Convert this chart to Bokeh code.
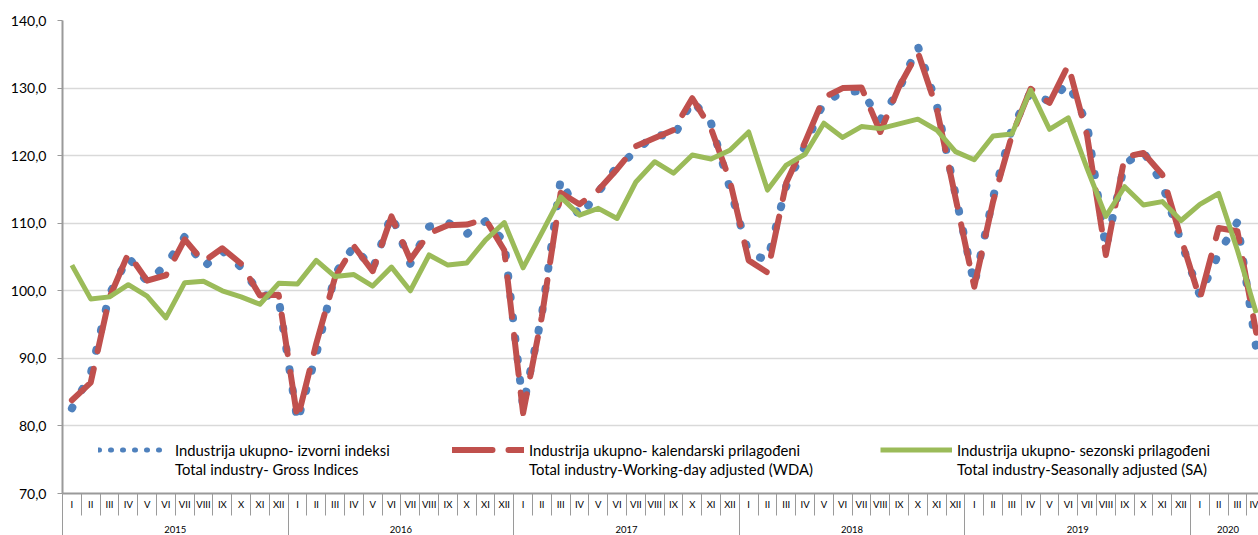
from bokeh.plotting import figure
from bokeh.models import (Range1d, FixedTicker, LinearAxis, Legend, LegendItem,
                          CustomJSTickFormatter)
from bokeh.embed import file_html
from bokeh.resources import INLINE

# ---------------- data ----------------
months = ["I", "II", "III", "IV", "V", "VI", "VII", "VIII", "IX", "X", "XI", "XII"]
years = ["2015", "2016", "2017", "2018", "2019", "2020"]
months_per_year = [12, 12, 12, 12, 12, 4]

# Industrija ukupno - izvorni indeksi (gross indices)
gross = [82.6, 87.7, 99.5, 105.0, 101.3, 103.8, 108.0, 103.5, 105.9, 103.5, 99.6, 98.8,
         80.7, 90.6, 102.5, 106.6, 103.2, 111.3, 104.0, 109.5, 110.1, 108.4, 110.3, 107.3,
         82.8, 96.5, 116.5, 110.9, 114.6, 118.4, 120.6, 123.2, 122.7, 128.2, 124.8, 115.2,
         105.6, 104.5, 115.5, 121.4, 128.0, 129.3, 129.6, 125.3, 129.8, 136.2, 127.5, 114.3,
         100.9, 113.8, 124.0, 129.4, 128.0, 130.7, 124.7, 106.3, 118.8, 120.6, 115.8, 107.3,
         99.3, 105.5, 110.2, 91.5]

# Industrija ukupno - kalendarski prilagodeni (working-day adjusted)
wda = [83.8, 86.4, 99.0, 105.5, 101.5, 102.3, 107.6, 104.3, 106.3, 104.0, 99.3, 99.4,
       81.0, 92.2, 102.0, 106.6, 102.9, 111.0, 104.6, 108.5, 109.7, 109.8, 110.6, 106.0,
       81.9, 96.2, 114.5, 112.8, 114.9, 118.0, 121.4, 122.6, 123.8, 128.5, 124.0, 116.3,
       104.5, 102.7, 116.0, 122.0, 128.6, 130.0, 130.1, 123.5, 130.2, 135.3, 127.0, 113.8,
       100.6, 113.2, 123.0, 129.9, 127.8, 133.4, 123.0, 105.3, 119.8, 120.4, 117.2, 107.8,
       98.8, 109.3, 108.8, 93.8]

# Industrija ukupno - sezonski prilagodeni (seasonally adjusted)
sa = [103.8, 98.8, 99.1, 100.9, 99.2, 96.0, 101.2, 101.4, 100.0, 99.1, 98.0, 101.1,
      101.0, 104.5, 102.1, 102.4, 100.7, 103.5, 100.0, 105.3, 103.8, 104.1, 107.5, 110.1,
      103.4, 108.6, 113.9, 111.2, 112.2, 110.7, 116.1, 119.1, 117.4, 120.1, 119.5, 120.8,
      123.5, 114.9, 118.6, 120.2, 124.8, 122.7, 124.3, 124.0, 124.7, 125.4, 123.8, 120.6,
      119.4, 122.9, 123.2, 129.7, 123.9, 125.6, 118.1, 111.0, 115.4, 112.7, 113.2, 110.4,
      112.8, 114.4, 106.0, 96.7]

legend_gross = ["Industrija ukupno- izvorni indeksi", "Total industry- Gross Indices"]
legend_wda = ["Industrija ukupno- kalendarski prilagođeni", "Total industry-Working-day adjusted (WDA)"]
legend_sa = ["Industrija ukupno- sezonski prilagođeni", "Total industry-Seasonally adjusted (SA)"]

y_ticks = [70, 80, 90, 100, 110, 120, 130, 140]

# ---------------- styling ----------------
FONT = "Lato"
BLUE = "#4F81BD"
RED = "#C0504D"
GREEN = "#9BBB59"
AXIS = "#9A9A9A"
GRID = "#D9D9D9"

n = len(gross)
x = list(range(n))

p = figure(width=1258, height=535, output_backend="svg", toolbar_location=None,
           x_range=Range1d(-0.5, 63.12), y_range=Range1d(70, 140),
           min_border_left=62, min_border_right=0, min_border_top=20,
           min_border_bottom=41)
p.outline_line_color = None
p.background_fill_color = "white"
p.border_fill_color = "white"

# y axis
p.yaxis.ticker = FixedTicker(ticks=y_ticks)
p.yaxis.formatter = CustomJSTickFormatter(code="return tick.toFixed(1).replace('.', ',');")
p.yaxis.axis_line_color = AXIS
p.yaxis.axis_line_width = 2
p.yaxis.major_tick_line_color = AXIS
p.yaxis.major_tick_out = 5
p.yaxis.major_tick_in = 0
p.yaxis.minor_tick_line_color = None
p.yaxis.major_label_standoff = 11
p.yaxis.major_label_text_font = FONT
p.yaxis.major_label_text_font_size = "14px"
p.yaxis.major_label_text_color = "#000000"
p.ygrid.ticker = FixedTicker(ticks=y_ticks)
p.ygrid.grid_line_color = GRID
p.ygrid.grid_line_width = 1.5
p.xgrid.grid_line_color = None

# x axis 1: months
xa = p.xaxis[0]
xa.ticker = FixedTicker(ticks=x, minor_ticks=[i - 0.5 for i in range(n + 1)])
xa.major_label_overrides = {i: months[i % 12] for i in x}
xa.major_tick_out = 0
xa.major_tick_in = 0
xa.major_tick_line_color = None
xa.minor_tick_out = 22
xa.minor_tick_in = 0
xa.minor_tick_line_color = AXIS
xa.minor_tick_line_width = 1
xa.axis_line_color = AXIS
xa.axis_line_width = 2
xa.major_label_standoff = -17
xa.major_label_text_font = FONT
xa.major_label_text_font_size = "9.5px"
xa.major_label_text_color = "#000000"

# x axis 2: years
bounds = [-0.5]
for c in months_per_year:
    bounds.append(bounds[-1] + c)
centers = [(bounds[k] + bounds[k + 1]) / 2 for k in range(len(years))]
ya = LinearAxis(ticker=FixedTicker(ticks=centers, minor_ticks=bounds),
                major_label_overrides={c: yv for c, yv in zip(centers, years)})
ya.axis_line_color = None
ya.major_tick_line_color = None
ya.major_tick_out = 0
ya.major_tick_in = 0
ya.minor_tick_out = 29
ya.minor_tick_in = 0
ya.minor_tick_line_color = AXIS
ya.major_label_standoff = -16
ya.major_label_text_font = FONT
ya.major_label_text_font_size = "9.5px"
ya.major_label_text_color = "#000000"
p.add_layout(ya, "below")

# data lines
p.line(x, gross, line_color=BLUE, line_width=8, line_dash="1 20", line_cap="round",
       line_join="round")
p.line(x, wda, line_color=RED, line_width=6, line_dash="40 18", line_cap="round",
       line_join="round")
p.line(x, sa, line_color=GREEN, line_width=5, line_join="round")

# legend sample glyphs (hidden copies, styled for the legend)
lg_b = p.line(x, gross, line_color=BLUE, line_width=5, line_dash="1 11", line_cap="round",
              visible=False)
lg_r = p.line(x, wda, line_color=RED, line_width=6, line_dash="40 16", line_cap="round",
              visible=False)
lg_g = p.line(x, sa, line_color=GREEN, line_width=5, visible=False)
lg_none = p.line(x, sa, line_alpha=0, visible=False)

for r, txt, xo in [(lg_b, legend_gross, 36), (lg_r, legend_wda, 390), (lg_g, legend_sa, 818)]:
    leg = Legend(items=[LegendItem(label=txt[0], renderers=[r]),
                        LegendItem(label=txt[1], renderers=[lg_none])],
                 location=(xo, 15), orientation="vertical",
                 glyph_width=72, glyph_height=19, label_height=19, label_standoff=5,
                 padding=0, margin=0, spacing=0,
                 border_line_color=None, background_fill_alpha=0,
                 inactive_fill_alpha=0,
                 label_text_font=FONT, label_text_font_size="14.8px",
                 label_text_color="#000000")
    p.add_layout(leg)

open("out.html", "w").write(file_html(p, INLINE))
